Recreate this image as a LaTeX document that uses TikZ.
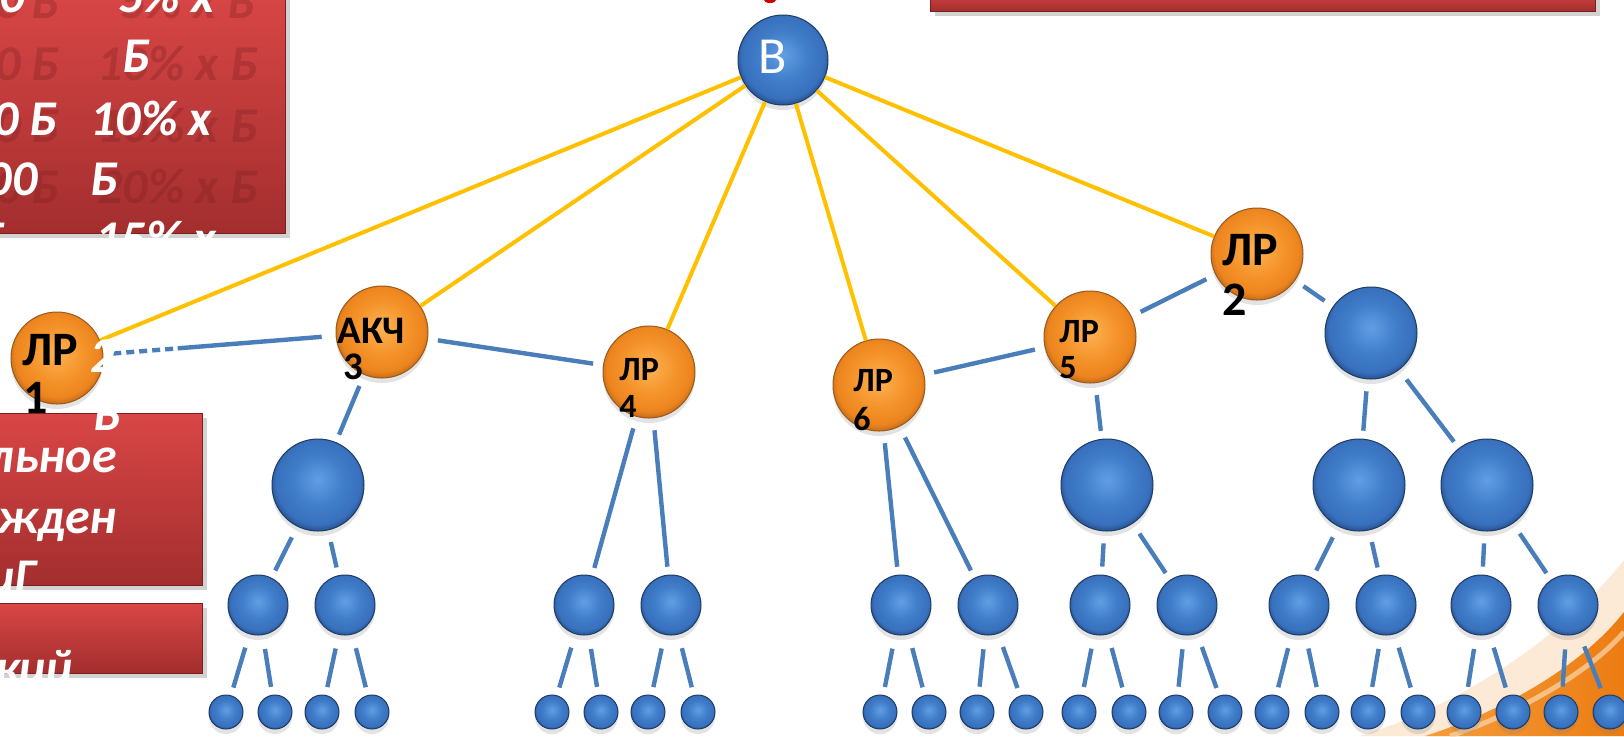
\documentclass[tikz,border=0pt]{standalone}
\usepackage{fontspec}
\setmainfont{Carlito}
\usetikzlibrary{shadows}
\definecolor{ylw}{HTML}{FFC000}
\definecolor{bln}{HTML}{4A7EBB}
\definecolor{boxtop}{HTML}{D94646}
\definecolor{boxbot}{HTML}{A32E2E}
\definecolor{boxedge}{HTML}{7A1F1F}
\definecolor{bedge}{HTML}{1E3D66}
\definecolor{oedge}{HTML}{9A5A1A}
\definecolor{swl}{HTML}{F59E3C}
\definecolor{swd}{HTML}{EC7C12}
\definecolor{swh}{HTML}{FBD7AE}
\pgfdeclareradialshading{blueball}{\pgfpoint{0bp}{3bp}}{rgb(0bp)=(0.38,0.62,0.89); rgb(14bp)=(0.25,0.49,0.79); rgb(23bp)=(0.22,0.44,0.74); rgb(27bp)=(0.14,0.30,0.53); rgb(50bp)=(0.14,0.30,0.53)}
\pgfdeclareradialshading{orangeball}{\pgfpoint{0bp}{3bp}}{rgb(0bp)=(0.99,0.70,0.33); rgb(14bp)=(0.96,0.58,0.17); rgb(23bp)=(0.93,0.52,0.12); rgb(27bp)=(0.74,0.41,0.10); rgb(50bp)=(0.74,0.41,0.10)}
\begin{document}
\begin{tikzpicture}[x=0.5pt,y=-0.5pt,
  bnode/.style={circle, inner sep=0pt, shade, shading=blueball, draw=bedge, line width=0.5pt,
    drop shadow={shadow xshift=0pt, shadow yshift=-2.5pt, opacity=0.22}},
  onode/.style={circle, inner sep=0pt, shade, shading=orangeball, draw=oedge, line width=0.5pt,
    minimum size=46pt, drop shadow={shadow xshift=0pt, shadow yshift=-2.5pt, opacity=0.22}},
  bignode/.style={bnode, minimum size=46pt},
  mednode/.style={bnode, minimum size=30pt},
  smlnode/.style={bnode, minimum size=17pt},
  yl/.style={draw=ylw, line width=2pt},
  bl/.style={draw=bln, line width=2.2pt, shorten <=5pt, shorten >=5pt},
  bld/.style={draw=bln, line width=2.2pt, shorten <=6pt, shorten >=4pt},
  redbox/.style={top color=boxtop, bottom color=boxbot, draw=boxedge, line width=0.5pt,
    drop shadow={shadow xshift=2.5pt, shadow yshift=-2.5pt, opacity=0.35}},
  wt/.style={text=white, inner sep=0pt, font=\fontsize{25pt}{30pt}\selectfont\bfseries\itshape},
  shd/.style={text=boxedge, opacity=0.3, inner sep=0pt, font=\fontsize{25pt}{30pt}\selectfont\bfseries\itshape},
  lbig/.style={text=black, inner sep=0pt, anchor=base west, font=\fontsize{24pt}{28pt}\selectfont\bfseries},
  lmid/.style={text=black, inner sep=0pt, anchor=base west, font=\fontsize{19.5pt}{23pt}\selectfont\bfseries},
  lsml/.style={text=black, inner sep=0pt, anchor=base west, font=\fontsize{17pt}{20pt}\selectfont\bfseries}
]
\useasboundingbox (0,0) rectangle (1624,736);
\fill[white] (0,0) rectangle (1624,736);
\clip (0,0) rectangle (1624,736);

% orange swoosh, bottom right
\fill[swh, opacity=0.5] (1360,736) .. controls (1460,705) and (1560,640) .. (1624,560) -- (1624,736) -- cycle;
\shade[left color=swl, right color=swd] (1425,736) .. controls (1500,712) and (1580,668) .. (1624,612) -- (1624,736) -- cycle;
\draw[swh, opacity=0.7, line width=2.5pt] (1450,736) .. controls (1515,714) and (1588,674) .. (1624,632);

% red boxes
\path[redbox] (-10,-10) rectangle (285,233);
\path[redbox] (930,-10) rectangle (1595,11);
\path[redbox] (-10,413) rectangle (202,585);
\path[redbox] (-10,603) rectangle (202,673);
\fill[red!80!black] (770,0) ellipse (6 and 3);

% faint reflected text in the top box
\node[shd, anchor=base east] (s0a) at (60,18) {0 Б};
\node[shd, anchor=base west] (s0b) at (120,18) {5\% x Б};
\node[shd, anchor=base east] (s1a) at (60,80) {0 Б};
\node[shd, anchor=base west] (s1b) at (97,80) {10\% x Б};
\node[shd, anchor=base east] (s2a) at (60,142) {0 Б};
\node[shd, anchor=base west] (s2b) at (97,142) {10\% x Б};
\node[shd, anchor=base east] (s3a) at (60,203) {0 Б};
\node[shd, anchor=base west] (s3b) at (97,203) {20\% x Б};

% white text of the top box
\node[wt, anchor=base east] (t1a) at (25,12) {00};
\node[wt, anchor=base west] (t1b) at (118,12) {5\% x};
\node[wt, anchor=base west] (t2b) at (122,72) {Б};
\node[wt, anchor=base east] (t3a) at (58,135) {0 Б};
\node[wt, anchor=base west] (t3b) at (90,135) {10\% x};
\node[wt, anchor=base east] (t4a) at (38,195) {00};
\node[wt, anchor=base west] (t4b) at (90,195) {Б};
\node[wt, anchor=base east] (t5a) at (6,255) {Б};
\node[wt, anchor=base west] (t5b) at (95,255) {15\% x};

% white text of the lower boxes
\node[wt, anchor=base east] (u1) at (117,472) {льное};
\node[wt, anchor=base east] (u2) at (117,533) {жден};
\node[wt, anchor=base east] (u3) at (37,593) {иГ};
\node[wt, anchor=base east] (u4) at (73,684) {кий};

% nodes
\node[bignode, minimum size=45pt] (root) at (783,60) {};
\node[onode] (lr1) at (57,358) {};
\node[onode] (akch) at (382,332) {};
\node[onode] (lr4) at (649,372) {};
\node[onode] (lr6) at (879,385) {};
\node[onode] (lr5) at (1090,337) {};
\node[onode] (lr2) at (1257,254) {};
\node[bignode] (b1) at (318,485) {};
\node[bignode] (b2) at (1371,333) {};
\node[bignode] (b3) at (1107,485) {};
\node[bignode] (b4) at (1359,485) {};
\node[bignode] (b5) at (1487,485) {};
\foreach \x [count=\i] in {258,345,584,671,901,988,1100,1187,1299,1386,1481,1568}
  \node[mednode] (m\i) at (\x,605) {};
\foreach \x [count=\i] in {226,275,322,372,552,601,648,698,880,929,977,1026,1079,1129,1176,1225,1272,1322,1368,1418,1464,1513,1561,1610}
  \node[smlnode] (s\i) at (\x,712) {};

% yellow connectors from the root
\foreach \n in {lr1,akch,lr4,lr6,lr5,lr2}
  \draw[yl] (root) -- (\n);

% blue connectors
\path (lr1) -- (akch) coordinate[pos=0.32] (brk);
\draw[draw=bln, line width=2.2pt, shorten <=5pt, dash pattern=on 4pt off 2.5pt] (lr1) -- (brk);
\draw[draw=bln, line width=2.2pt, shorten >=7pt] (brk) -- (akch);
\draw[bl] (akch) -- (lr4);
\draw[bld] (akch) -- (b1);
\draw[bld] (lr4) -- (m3);
\draw[bld] (lr4) -- (m4);
\draw[bl] (lr6) -- (lr5);
\draw[bl] (lr5) -- (lr2);
\draw[bl] (lr2) -- (b2);
\draw[bld] (lr6) -- (m5);
\draw[bld] (lr6) -- (m6);
\draw[bld] (lr5) -- (b3);
\draw[bld] (b2) -- (b4);
\draw[bld] (b2) -- (b5);
\draw[bld] (b1) -- (m1);
\draw[bld] (b1) -- (m2);
\draw[bld] (b3) -- (m7);
\draw[bld] (b3) -- (m8);
\draw[bld] (b4) -- (m9);
\draw[bld] (b4) -- (m10);
\draw[bld] (b5) -- (m11);
\draw[bld] (b5) -- (m12);
\foreach \i in {1,...,12} {
  \pgfmathtruncatemacro\ca{2*\i-1}
  \pgfmathtruncatemacro\cb{2*\i}
  \draw[draw=bln, line width=2.2pt, shorten <=7pt, shorten >=4pt] (m\i) -- (s\ca);
  \draw[draw=bln, line width=2.2pt, shorten <=7pt, shorten >=4pt] (m\i) -- (s\cb);
}

% labels
\node[text=white, inner sep=0pt, anchor=base, font=\fontsize{26pt}{30pt}\selectfont] (rootlbl) at (773,73) {В};
\node[lbig] (lr1a) at (22,365) {ЛР};
\node[lbig] (lr1b) at (23,413) {1};
\node[lbig] (lr2a) at (1222,265) {ЛР};
\node[lbig] (lr2b) at (1222,315) {2};
\node[lmid] (akcha) at (337,343) {АКЧ};
\node[lmid] (akchb) at (343,379) {3};
\node[lsml] (lr4a) at (619,380) {ЛР};
\node[lsml] (lr4b) at (619,417) {4};
\node[lsml] (lr6a) at (853,391) {ЛР};
\node[lsml] (lr6b) at (853,430) {6};
\node[lsml] (lr5a) at (1059,342) {ЛР};
\node[lsml] (lr5b) at (1059,378) {5};

% white overflow text over the nodes and boxes
\node[wt, anchor=base west] (w1) at (90,372) {2};
\node[wt, anchor=base west] (w2) at (93,430) {Б};
\end{tikzpicture}
\end{document}
